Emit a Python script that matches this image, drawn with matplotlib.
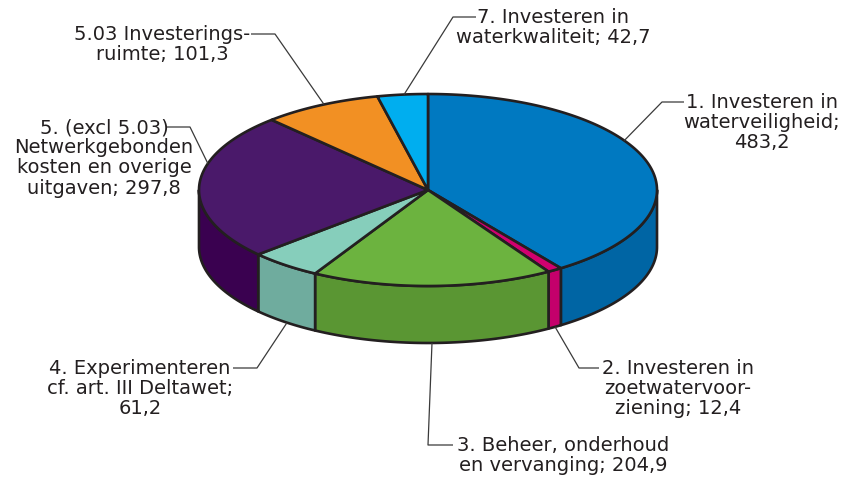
import numpy as np
import matplotlib
matplotlib.use('Agg')
import matplotlib.pyplot as plt
from matplotlib.patches import Polygon

# DATA
labels = ['1. Investeren in\nwaterveiligheid;\n483,2',
          '2. Investeren in\nzoetwatervoor-\nziening; 12,4',
          '3. Beheer, onderhoud\nen vervanging; 204,9',
          '4. Experimenteren\ncf. art. III Deltawet;\n61,2',
          '5. (excl 5.03)\nNetwerkgebonden\nkosten en overige\nuitgaven; 297,8',
          '5.03 Investerings-\nruimte; 101,3',
          '7. Investeren in\nwaterkwaliteit; 42,7']
values = [483.2, 12.4, 204.9, 61.2, 297.8, 101.3, 42.7]
top_colors = ['#0079C1', '#D1006F', '#6CB33F', '#86CEBB', '#4A196A', '#F29023', '#00AEEF']
side_colors = ['#0065A4', '#C4006B', '#5A9633', '#6FAC9E', '#3A0150', '#D97C15', '#0096D0']

# layout (pixel coordinates, y downward)
cx, cy, rx, ry, depth = 428, 191, 229, 96, 57
edge = '#231F20'
lw = 1.9

# label placement: text centre x, first-line y, anchor angle, rim ('top'/'bot'), elbow x, line end x
lab_pos = [
    (762, 103, 31, 'top', 662, 684),
    (678, 369, -56.3, 'bot', 579, 599),
    (563, 446, -89, 'bot', 428, 453),
    (140, 369, -128, 'bot', 257, 233),
    (104, 128, 164, 'top', 190, 167),
    (162, 35, 117, 'top', 275, 251),
    (553, 18, 96, 'top', 453, 476),
]

def pt(theta, dz=0):
    t = np.radians(theta)
    return cx + rx*np.cos(t), cy - ry*np.sin(t) + dz

fig = plt.figure(figsize=(8.53, 4.81), dpi=100)
ax = fig.add_axes([0, 0, 1, 1])
ax.set_xlim(0, 853)
ax.set_ylim(481, 0)
ax.axis('off')

total = sum(values)
angles = [90.0]
for v in values:
    angles.append(angles[-1] - 360.0*v/total)

# side walls (front half only)
for i in range(len(values)):
    a1, a2 = angles[i], angles[i+1]
    s1, s2 = min(a1, 0), max(a2, -180)
    if s1 > s2:
        th = np.linspace(s1, s2, 60)
        top = [pt(t) for t in th]
        bot = [pt(t, depth) for t in th[::-1]]
        ax.add_patch(Polygon(top + bot, closed=True, facecolor=side_colors[i],
                             edgecolor=edge, lw=lw, joinstyle='round'))

# top face
for i in range(len(values)):
    th = np.linspace(angles[i], angles[i+1], 120)
    verts = [(cx, cy)] + [pt(t) for t in th]
    ax.add_patch(Polygon(verts, closed=True, facecolor=top_colors[i],
                         edgecolor=edge, lw=lw, joinstyle='round'))

# labels + leader lines
for lab, (tx, ty, ang, rim, ex, lx) in zip(labels, lab_pos):
    ax_, ay_ = pt(ang, depth if rim == 'bot' else 0)
    ax.plot([ax_, ex, lx], [ay_, ty, ty], color='#3a3a3a', lw=0.9,
            solid_capstyle='butt', zorder=1)
    ax.text(tx, ty - 10, lab, ha='center', va='top', multialignment='center',
            fontsize=14, color='#231F20', linespacing=1.08, family='DejaVu Sans')

fig.savefig('out.png', dpi=100)
